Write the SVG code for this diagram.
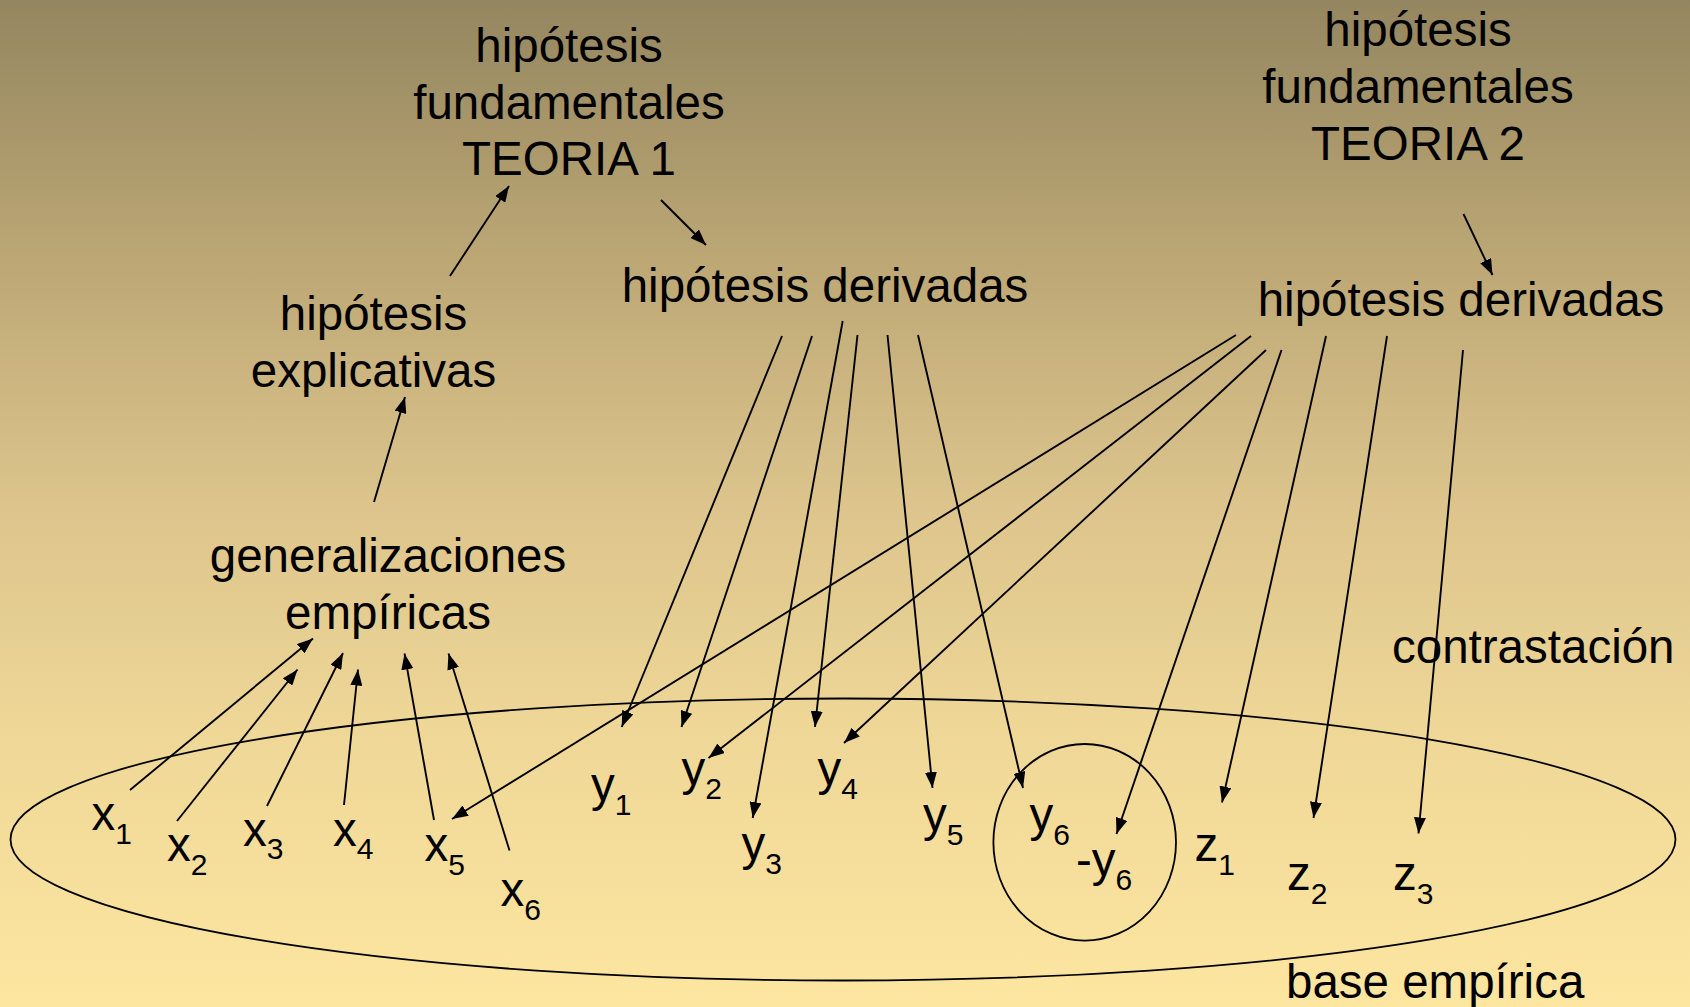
<svg xmlns="http://www.w3.org/2000/svg" width="1690" height="1007" viewBox="0 0 1690 1007">
<defs>
<linearGradient id="bg" x1="0" y1="0" x2="0" y2="1">
<stop offset="0" stop-color="#948660"/>
<stop offset="0.25" stop-color="#BBA674"/>
<stop offset="0.5" stop-color="#DCC48C"/>
<stop offset="0.75" stop-color="#F0D998"/>
<stop offset="1" stop-color="#FDE6A0"/>
</linearGradient>
<marker id="ah" viewBox="0 0 16 12" refX="16" refY="6" markerWidth="16" markerHeight="12" markerUnits="userSpaceOnUse" orient="auto">
<path d="M0,0 L16,6 L0,12 z" fill="#000"/>
</marker>
<style>
text{font-family:"Liberation Sans",Arial,sans-serif;font-size:47.5px;fill:#000}
.c{text-anchor:middle}
.s{font-size:30px}
.e{fill:none;stroke:#000;stroke-width:1.8}
.a{stroke:#000;stroke-width:1.9;fill:none;marker-end:url(#ah)}
</style>
</defs>
<rect x="0" y="0" width="1690" height="1007" fill="url(#bg)"/>

<g id="base-empirica">
<ellipse class="e" cx="843" cy="839.5" rx="832.5" ry="141"/>
<text x="1286" y="998">base empírica</text>
</g>
<g id="circulo-y6">
<ellipse class="e" cx="1084.7" cy="842.3" rx="91.3" ry="98.3"/>
</g>

<g id="teoria1">
<text class="c" x="569" y="62">hipótesis</text>
<text class="c" x="569" y="118.5">fundamentales</text>
<text class="c" x="569" y="175">TEORIA 1</text>
</g>
<g id="teoria2">
<text class="c" x="1418" y="46">hipótesis</text>
<text class="c" x="1418" y="102.5">fundamentales</text>
<text class="c" x="1418" y="159.5">TEORIA 2</text>
</g>
<g id="derivadas1"><text class="c" x="825" y="302">hipótesis derivadas</text></g>
<g id="derivadas2"><text class="c" x="1461" y="316">hipótesis derivadas</text></g>
<g id="explicativas">
<text class="c" x="373.5" y="330">hipótesis</text>
<text class="c" x="373.5" y="387">explicativas</text>
</g>
<g id="generalizaciones">
<text class="c" x="388" y="572">generalizaciones</text>
<text class="c" x="388" y="629">empíricas</text>
</g>
<g id="contrastacion"><text x="1392" y="663">contrastación</text></g>

<g id="x1"><text x="91.6" y="830">x<tspan class="s" dy="13.5">1</tspan></text></g>
<g id="x2"><text x="167" y="861">x<tspan class="s" dy="13.5">2</tspan></text></g>
<g id="x3"><text x="243" y="845.5">x<tspan class="s" dy="13.5">3</tspan></text></g>
<g id="x4"><text x="333" y="845.5">x<tspan class="s" dy="13.5">4</tspan></text></g>
<g id="x5"><text x="424.5" y="861">x<tspan class="s" dy="13.5">5</tspan></text></g>
<g id="x6"><text x="500.5" y="906">x<tspan class="s" dy="13.5">6</tspan></text></g>
<g id="y1"><text x="591" y="801">y<tspan class="s" dy="13.5">1</tspan></text></g>
<g id="y2"><text x="681.5" y="785">y<tspan class="s" dy="13.5">2</tspan></text></g>
<g id="y3"><text x="741.5" y="860">y<tspan class="s" dy="13.5">3</tspan></text></g>
<g id="y4"><text x="817.5" y="785">y<tspan class="s" dy="13.5">4</tspan></text></g>
<g id="y5"><text x="923" y="831">y<tspan class="s" dy="13.5">5</tspan></text></g>
<g id="y6"><text x="1029.5" y="831">y<tspan class="s" dy="13.5">6</tspan></text></g>
<g id="neg-y6"><text x="1076" y="876">-y<tspan class="s" dy="13.5">6</tspan></text></g>
<g id="z1"><text x="1194.5" y="861">z<tspan class="s" dy="13.5">1</tspan></text></g>
<g id="z2"><text x="1287" y="890">z<tspan class="s" dy="13.5">2</tspan></text></g>
<g id="z3"><text x="1393" y="890">z<tspan class="s" dy="13.5">3</tspan></text></g>

<g id="connectors">
<line class="a" x1="450" y1="276" x2="509" y2="186"/>
<line class="a" x1="661" y1="200" x2="706" y2="245"/>
<line class="a" x1="374" y1="502" x2="405" y2="397"/>
<line class="a" x1="1463.5" y1="214" x2="1492.5" y2="275"/>
<line class="a" x1="130" y1="790" x2="313" y2="638.5"/>
<line class="a" x1="177" y1="821" x2="297.5" y2="669.5"/>
<line class="a" x1="267" y1="806" x2="343" y2="653"/>
<line class="a" x1="344" y1="805" x2="358" y2="669.5"/>
<line class="a" x1="434" y1="820" x2="404.5" y2="653.5"/>
<line class="a" x1="509.5" y1="850.5" x2="448.5" y2="653.5"/>
<line class="a" x1="782" y1="336" x2="621.7" y2="727"/>
<line class="a" x1="812" y1="336" x2="681.5" y2="727"/>
<line class="a" x1="842.7" y1="321" x2="752.7" y2="818"/>
<line class="a" x1="857.5" y1="335" x2="815" y2="727"/>
<line class="a" x1="887.5" y1="335" x2="932.5" y2="788"/>
<line class="a" x1="918" y1="335" x2="1023" y2="788"/>
<line class="a" x1="1236" y1="335" x2="452" y2="819"/>
<line class="a" x1="1251" y1="336" x2="708.5" y2="758"/>
<line class="a" x1="1266" y1="350" x2="844" y2="743"/>
<line class="a" x1="1281.5" y1="350" x2="1116.5" y2="834"/>
<line class="a" x1="1326" y1="336" x2="1222" y2="802.5"/>
<line class="a" x1="1387" y1="336" x2="1313.5" y2="818"/>
<line class="a" x1="1463" y1="350" x2="1418.5" y2="833.5"/>
</g>
</svg>
